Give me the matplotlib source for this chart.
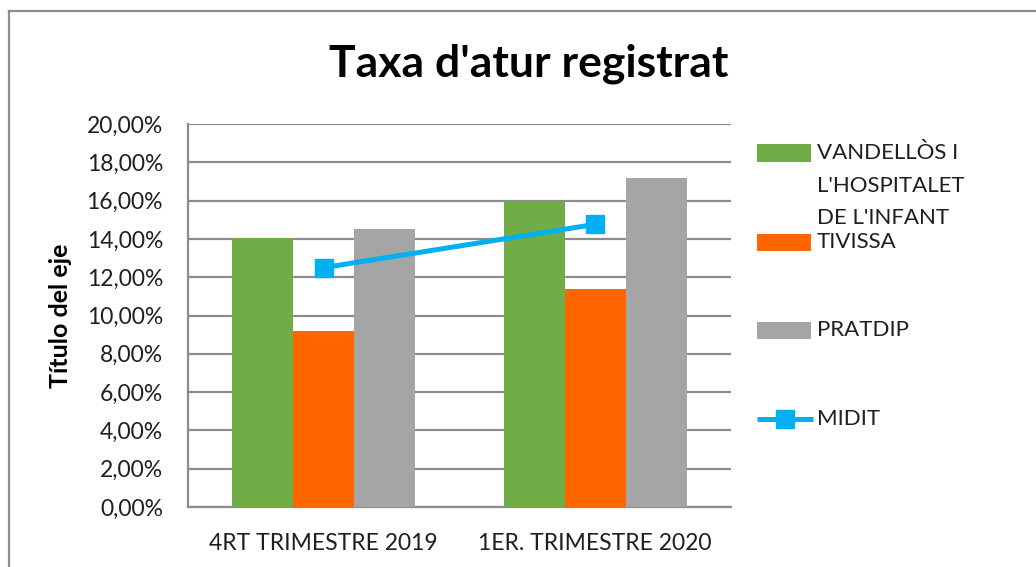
import matplotlib
matplotlib.use("Agg")
import matplotlib.pyplot as plt
from matplotlib.patches import Rectangle
from matplotlib.lines import Line2D
from matplotlib.ticker import FuncFormatter
import numpy as np

plt.rcParams['font.family'] = ['Lato', 'DejaVu Sans']

categories = ["4RT TRIMESTRE 2019", "1ER. TRIMESTRE 2020"]
series_names = ["VANDELLÒS I\nL'HOSPITALET\nDE L'INFANT", "TIVISSA", "PRATDIP"]
vandellos = [14.07, 16.0]
tivissa = [9.19, 11.4]
pratdip = [14.5, 17.2]
midit = [12.5, 14.76]
line_name = "MIDIT"

colors = ["#70AD47", "#FF6600", "#A5A5A5"]
line_color = "#00B0F0"
grid_color = "#8C8C8C"
text_color = "#1F1F1F"

W, H = 1036, 567
fig = plt.figure(figsize=(W / 100, H / 100), dpi=100)

def fx(px):
    return px / W

def fy(py):
    return 1 - py / H

# outer chart frame
fig.add_artist(Line2D([fx(9), fx(9)], [fy(11), 0], color="#8C8C8C", lw=1.6))
fig.add_artist(Line2D([fx(9), 1], [fy(11), fy(11)], color="#8C8C8C", lw=1.6))

left, right, top, bottom = 188, 731, 124, 507
ax = fig.add_axes([fx(left), fy(bottom), (right - left) / W, (bottom - top) / H])

x = np.arange(len(categories))
bw = 0.225
for i, (vals, c) in enumerate(zip([vandellos, tivissa, pratdip], colors)):
    ax.bar(x + (i - 1) * bw, vals, width=bw, color=c, zorder=3, linewidth=0)
ax.plot(x, midit, color=line_color, lw=3.6, marker="s", markersize=13,
        zorder=4, solid_capstyle="butt")

ax.set_xlim(-0.5, 1.5)
ax.set_ylim(0, 20)
ax.set_yticks(np.arange(0, 20.01, 2))
ax.yaxis.set_major_formatter(FuncFormatter(lambda v, p: f"{v:.2f}".replace(".", ",") + "%"))
ax.set_xticks(x)
ax.set_xticklabels(categories)
ax.grid(axis="y", color=grid_color, lw=1.6, zorder=0)
for s in ["top", "right"]:
    ax.spines[s].set_visible(False)
for s in ["left", "bottom"]:
    ax.spines[s].set_color(grid_color)
    ax.spines[s].set_linewidth(1.6)
ax.tick_params(axis="both", length=0, labelsize=16.5, colors=text_color)
ax.tick_params(axis="y", pad=18)
ax.tick_params(axis="x", pad=19)

fig.text(fx(61), fy(316), "Título del eje", rotation=90, ha="center", va="center",
         fontsize=18, fontweight="bold", color="#000000")

fig.text(fx(529), fy(64), "Taxa d'atur registrat", ha="center", va="center",
         fontsize=32, fontweight="bold", color="#000000")

# legend
fs_leg = 16
tx = fx(817)
patch_rows = [153, 242, 330.5]
for name, c, yc in zip(series_names, colors, patch_rows):
    fig.add_artist(Rectangle((fx(757), fy(yc + 8.5)), 54 / W, 17 / H, color=c, lw=0))
lines = series_names[0].split("\n")
for j, ln in enumerate(lines):
    fig.text(tx, fy(153 + j * 32.5), ln, ha="left", va="center", fontsize=fs_leg, color=text_color)
fig.text(tx, fy(242), series_names[1], ha="left", va="center", fontsize=fs_leg, color=text_color)
fig.text(tx, fy(330.5), series_names[2], ha="left", va="center", fontsize=fs_leg, color=text_color)
fig.add_artist(Line2D([fx(757), fx(813)], [fy(419), fy(419)], color=line_color, lw=3.6,
                      solid_capstyle="butt"))
fig.add_artist(Line2D([fx(785)], [fy(419)], color=line_color, marker="s", markersize=13, lw=0))
fig.text(tx, fy(419), line_name, ha="left", va="center", fontsize=fs_leg, color=text_color)

fig.savefig("out.png", dpi=100, facecolor="white")
